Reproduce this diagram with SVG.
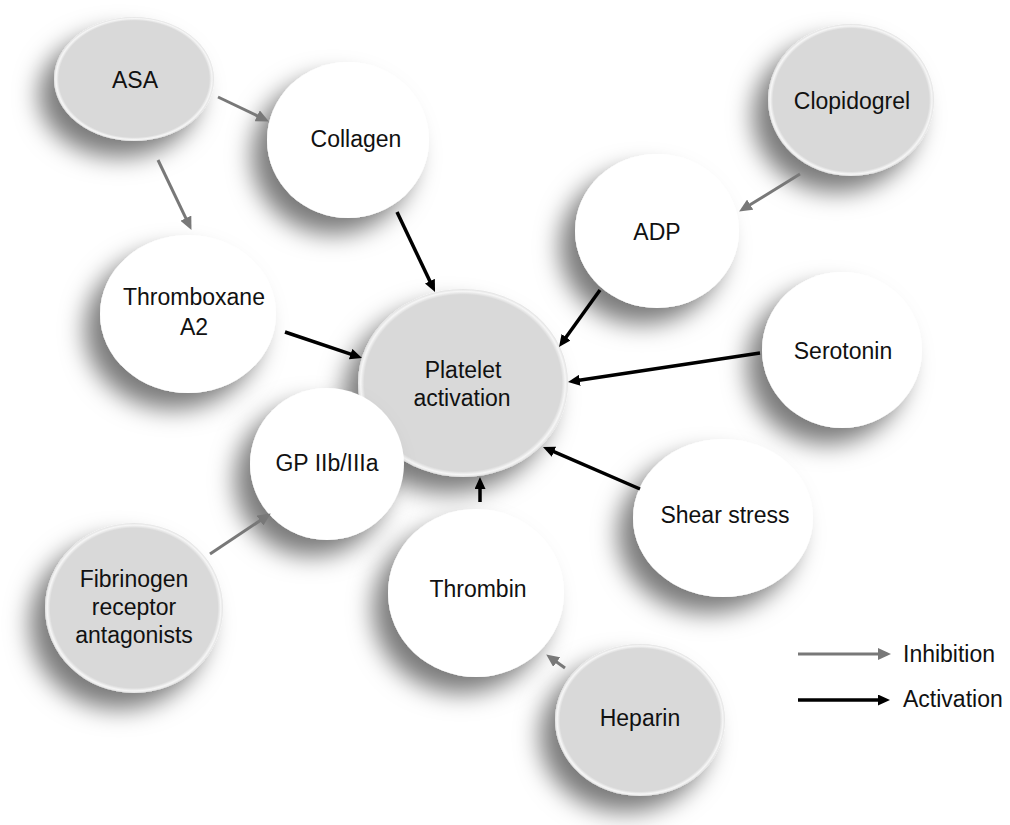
<svg xmlns="http://www.w3.org/2000/svg" width="1010" height="825" viewBox="0 0 1010 825">
<defs>
<filter id="sh" x="-50%" y="-50%" width="200%" height="200%">
<feDropShadow dx="-15" dy="16" stdDeviation="12" flood-color="#000" flood-opacity="0.52"/>
</filter>
<radialGradient id="gg" cx="0.5" cy="0.5" r="0.5">
<stop offset="0" stop-color="#d9d9d9"/>
<stop offset="0.94" stop-color="#d9d9d9"/>
<stop offset="0.975" stop-color="#f6f6f6"/>
<stop offset="1" stop-color="#e2e2e2"/>
</radialGradient>
<marker id="ag" markerUnits="userSpaceOnUse" markerWidth="13" markerHeight="12" refX="4" refY="6" orient="auto">
<path d="M0,0 L13,6 L0,12 z" fill="#787878"/>
</marker>
<marker id="ab" markerUnits="userSpaceOnUse" markerWidth="12" markerHeight="11" refX="4" refY="5.5" orient="auto">
<path d="M0,0 L12,5.5 L0,11 z" fill="#000"/>
</marker>
</defs>
<style>
.w{fill:#ffffff;filter:url(#sh)}
.g{fill:url(#gg);filter:url(#sh)}
text{font-family:"Liberation Sans",Arial,sans-serif;font-size:23px;fill:#111;text-anchor:middle}
.lg{text-anchor:start}
.inh{stroke:#787878;stroke-width:3;fill:none;marker-end:url(#ag)}
.act{stroke:#000;stroke-width:3.5;fill:none;marker-end:url(#ab)}
</style>
<rect width="1010" height="825" fill="#ffffff"/>
<g id="node-asa"><ellipse class="g" cx="134" cy="79" rx="80" ry="62"/><text x="135" y="88">ASA</text></g>
<g id="node-collagen"><ellipse class="w" cx="348" cy="140" rx="81" ry="78"/><text x="356" y="147">Collagen</text></g>
<g id="node-clopidogrel"><ellipse class="g" cx="851" cy="100" rx="83" ry="76"/><text x="852" y="109">Clopidogrel</text></g>
<g id="node-thromboxane"><ellipse class="w" cx="188" cy="314" rx="88" ry="79"/><text x="194" y="305">Thromboxane</text><text x="194" y="335">A2</text></g>
<g id="node-adp"><ellipse class="w" cx="657" cy="231" rx="82" ry="77"/><text x="657" y="240">ADP</text></g>
<g id="node-platelet"><ellipse class="g" cx="463" cy="383" rx="105" ry="94"/><text x="463" y="378">Platelet</text><text x="462" y="406">activation</text></g>
<g id="node-serotonin"><ellipse class="w" cx="842" cy="350" rx="80" ry="78"/><text x="843" y="359">Serotonin</text></g>
<g id="node-gp"><ellipse class="w" cx="327" cy="464" rx="77" ry="76"/><text x="327" y="471">GP IIb/IIIa</text></g>
<g id="node-shear"><ellipse class="w" cx="723" cy="518" rx="90" ry="79"/><text x="725" y="523">Shear stress</text></g>
<g id="node-thrombin"><ellipse class="w" cx="476" cy="593" rx="88" ry="84"/><text x="478" y="597">Thrombin</text></g>
<g id="node-fibrinogen"><ellipse class="g" cx="134" cy="608" rx="89" ry="85"/><text x="134" y="587">Fibrinogen</text><text x="134" y="615">receptor</text><text x="134" y="643">antagonists</text></g>
<g id="node-heparin"><ellipse class="g" cx="640" cy="720" rx="85" ry="76"/><text x="640" y="726">Heparin</text></g>
<g id="connectors">
<line class="inh" x1="218" y1="97" x2="260.8" y2="117.5"/>
<line class="inh" x1="158" y1="160" x2="187.6" y2="221.8"/>
<line class="act" x1="397" y1="212" x2="431.6" y2="284.8"/>
<line class="act" x1="285" y1="332" x2="354.4" y2="355.4"/>
<line class="act" x1="600" y1="290" x2="563.7" y2="340.5"/>
<line class="inh" x1="800" y1="174" x2="746.8" y2="206.8"/>
<line class="act" x1="760" y1="353" x2="575.9" y2="380.8"/>
<line class="act" x1="640" y1="489" x2="550.3" y2="450.2"/>
<line class="act" x1="480" y1="502" x2="480" y2="485"/>
<line class="inh" x1="210" y1="554" x2="263.3" y2="518.4"/>
<line class="inh" x1="565" y1="668" x2="553.5" y2="659.7"/>
</g>
<g id="legend">
<line class="inh" x1="798" y1="654" x2="882" y2="654"/>
<text class="lg" x="903" y="662">Inhibition</text>
<line class="act" x1="798" y1="700" x2="882" y2="700"/>
<text class="lg" x="903" y="707">Activation</text>
</g>
</svg>
